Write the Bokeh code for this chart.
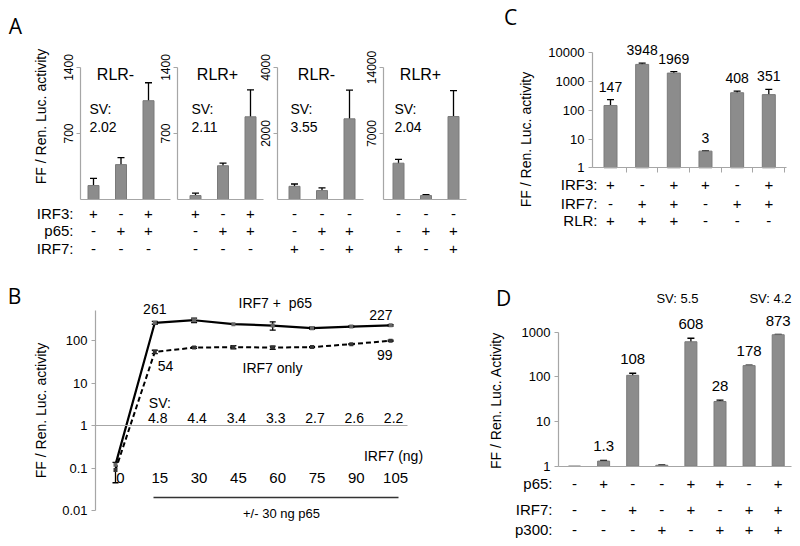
import math
from bokeh.plotting import figure
from bokeh.layouts import column, row
from bokeh.models import (Range1d, LinearAxis, LinearScale, LogScale, FixedTicker,
                          CustomJSTickFormatter, Whisker, TeeHead, ColumnDataSource)
from bokeh.core.properties import value
from bokeh.embed import file_html
from bokeh.resources import INLINE

# ---------------- data ----------------
# Panel A (four sub-charts)
a_titles = ["RLR-", "RLR+", "RLR-", "RLR+"]
a_sv = ["2.02", "2.11", "3.55", "2.04"]
a_axis_max = [1400, 1400, 4000, 14000]
a1_values = [148, 370, 1048]
a1_errors = [77, 74, 190]
a2_values = [42, 358, 877]
a2_errors = [25, 28, 286]
a3_values = [400, 270, 2445]
a3_errors = [70, 80, 870]
a4_values = [3850, 420, 8800]
a4_errors = [400, 100, 2750]
a_row_labels = ["IRF3:", "p65:", "IRF7:"]
a1_signs = [["+", "-", "+"], ["-", "+", "+"], ["-", "-", "-"]]
a2_signs = [["+", "-", "+"], ["-", "+", "+"], ["-", "-", "-"]]
a3_signs = [["-", "-", "-"], ["-", "+", "+"], ["+", "-", "+"]]
a4_signs = [["-", "-", "-"], ["-", "+", "+"], ["+", "-", "+"]]

# Panel B
b_irf7_ng = ["0", "15", "30", "45", "60", "75", "90", "105"]
b_irf7_p65 = [0.12, 261, 300, 242, 225, 195, 213, 227]
b_irf7_p65_err = [0, 20, 35, 0, 50, 10, 8, 8]
b_irf7_only = [0.09, 54, 68, 70, 68, 70, 82, 99]
b_irf7_only_err = [0.045, 5, 3, 6, 6, 2, 2, 3]
b_sv = ["4.8", "4.4", "3.4", "3.3", "2.7", "2.6", "2.2"]
b_ticks = [0.01, 0.1, 1, 10, 100]

# Panel C
c_values = [147, 3948, 1969, 3.8, 408, 351]
c_errors = [90, 400, 250, 0.1, 60, 180]
c_labels = ["147", "3948", "1969", "3", "408", "351"]
c_row_labels = ["IRF3:", "IRF7:", "RLR:"]
c_signs = [["+", "-", "+", "+", "-", "+"],
           ["-", "+", "+", "-", "+", "+"],
           ["+", "+", "+", "-", "-", "-"]]
c_ticks = [1, 10, 100, 1000, 10000]

# Panel D
d_values = [1.0, 1.3, 108, 1.05, 608, 28, 178, 873]
d_errors = [0, 0.05, 12, 0.02, 120, 2, 5, 10]
d_labels = ["", "1.3", "108", "", "608", "28", "178", "873"]
d_row_labels = ["p65:", "IRF7:", "p300:"]
d_signs = [["-", "+", "-", "-", "+", "+", "-", "+"],
           ["-", "-", "+", "-", "+", "-", "+", "+"],
           ["-", "-", "-", "+", "-", "+", "+", "+"]]
d_sv = ["SV: 5.5", "SV: 4.2"]
d_ticks = [1, 10, 100, 1000]

# ---------------- style / layout ----------------
FONT = "Liberation Sans"
LETTER_FONT = "Open Sans"
BAR_FILL = "#8c8c8c"
BAR_LINE = "#7a7a7a"
AXIS_COL = "#a6a6a6"
YTITLE = "FF / Ren. Luc. activity"


def make_fig(left, top, w, h):
    p = figure(width=w, height=h, x_range=Range1d(left, left + w),
               y_range=Range1d(top + h, top), min_border=0,
               toolbar_location=None, output_backend="svg",
               x_axis_location=None, y_axis_location=None,
               outline_line_color=None, background_fill_color="white",
               border_fill_color="white")
    p.xgrid.visible = False
    p.ygrid.visible = False
    return p


def add_x(p, name, px0, step):
    L, R = p.x_range.start, p.x_range.end
    p.extra_x_ranges = {**p.extra_x_ranges, name: Range1d((L - px0) / step, (R - px0) / step)}
    p.extra_x_scales = {**p.extra_x_scales, name: LinearScale()}


def add_y_lin(p, name, py0, py1, vmax):
    k = (py0 - py1) / vmax
    B, T = p.y_range.start, p.y_range.end
    p.extra_y_ranges = {**p.extra_y_ranges, name: Range1d((py0 - B) / k, (py0 - T) / k)}
    p.extra_y_scales = {**p.extra_y_scales, name: LinearScale()}


def add_y_log(p, name, py1, dec):
    B, T = p.y_range.start, p.y_range.end
    p.extra_y_ranges = {**p.extra_y_ranges,
                        name: Range1d(10 ** ((py1 - B) / dec), 10 ** ((py1 - T) / dec))}
    p.extra_y_scales = {**p.extra_y_scales, name: LogScale()}


def text(p, xs, ys, ss, size, align="center", baseline="middle", angle=0.0,
         xr="default", yr="default", font=FONT, dx=0, dy=0):
    n = len(ss)
    if not isinstance(xs, (list, tuple)):
        xs = [xs] * n
    if not isinstance(ys, (list, tuple)):
        ys = [ys] * n
    p.text(x=list(xs), y=list(ys), text=list(ss), x_range_name=xr, y_range_name=yr,
           text_font=value(font), text_font_size=f"{size}px", text_align=align,
           text_baseline=baseline, angle=angle, text_color="black",
           x_offset=dx, y_offset=dy)


def whiskers(p, vals, errs, xr, yr, head=7):
    ii = [i for i in range(len(vals)) if errs[i] > 0]
    src = ColumnDataSource(dict(x=ii, up=[vals[i] + errs[i] for i in ii],
                                lo=[vals[i] - errs[i] for i in ii]))
    w = Whisker(source=src, base="x", upper="up", lower="lo",
                x_range_name=xr, y_range_name=yr,
                line_color="black", line_width=1.3,
                upper_head=TeeHead(size=head, line_color="black", line_width=1.3),
                lower_head=TeeHead(size=head, line_color="black", line_width=1.3))
    p.add_layout(w)


def bars(p, vals, errs, xr, yr, width, bottom):
    idx = list(range(len(vals)))
    p.vbar(x=idx, top=vals, bottom=bottom, width=width, x_range_name=xr, y_range_name=yr,
           fill_color=BAR_FILL, line_color=BAR_LINE, line_width=1)
    whiskers(p, vals, errs, xr, yr)


def y_axis(p, xr, yr, loc, bounds, ticks, size, orient="horizontal"):
    ax = LinearAxis(x_range_name=xr, y_range_name=yr, fixed_location=loc, bounds=bounds,
                    ticker=FixedTicker(ticks=ticks),
                    formatter=CustomJSTickFormatter(code="return tick.toString()"),
                    axis_line_color=AXIS_COL, axis_line_width=1.2,
                    major_tick_line_color=AXIS_COL, major_tick_out=4, major_tick_in=0,
                    minor_tick_line_color=None, major_label_text_font=FONT,
                    major_label_text_font_size=f"{size}px", major_label_text_color="black",
                    major_label_orientation=orient, major_label_standoff=4)
    p.add_layout(ax, "left")


def x_axis(p, xr, yr, loc, bounds, ticks=()):
    ax = LinearAxis(x_range_name=xr, y_range_name=yr, fixed_location=loc, bounds=bounds,
                    ticker=FixedTicker(ticks=list(ticks)),
                    formatter=CustomJSTickFormatter(code="return ''"),
                    axis_line_color=AXIS_COL, axis_line_width=1.2,
                    major_tick_line_color=AXIS_COL if ticks else None,
                    major_tick_out=5, major_tick_in=0, minor_tick_line_color=None,
                    major_label_text_color=None)
    p.add_layout(ax, "below")


# ---------------- Panel A ----------------
pA = make_fig(0, 0, 480, 268)
A_AXIS_PX = [80, 177, 277, 383]
A_BAR0_PX = [93, 195, 294, 398]
A_END_PX = [170, 263, 363, 466]
A_STEP = 27.5
A_ZERO_PY, A_TOP_PY = 199, 67
A_ROW_PY = [213, 230, 248]
a_vals = [a1_values, a2_values, a3_values, a4_values]
a_errs = [a1_errors, a2_errors, a3_errors, a4_errors]
a_signs = [a1_signs, a2_signs, a3_signs, a4_signs]
for k in range(4):
    xr, yr = f"ax{k}", f"ay{k}"
    add_x(pA, xr, A_BAR0_PX[k], A_STEP)
    add_y_lin(pA, yr, A_ZERO_PY, A_TOP_PY, a_axis_max[k])
    bars(pA, a_vals[k], a_errs[k], xr, yr, 11 / A_STEP, 0)
    loc = (A_AXIS_PX[k] - A_BAR0_PX[k]) / A_STEP
    end = (A_END_PX[k] - A_BAR0_PX[k]) / A_STEP
    vm = a_axis_max[k]
    y_axis(pA, xr, yr, loc, (0, vm), [vm // 2, vm], 12, "vertical")
    x_axis(pA, xr, yr, 0, (loc, end))
    text(pA, [0.8], [74], [a_titles[k]], 16, xr=xr)
    text(pA, [-0.15, -0.15], [108, 126], ["SV:", a_sv[k]], 14, align="left", xr=xr)
    for r in range(3):
        text(pA, [0, 1, 2], A_ROW_PY[r], a_signs[k][r], 15, xr=xr)
text(pA, [15], [25], ["A"], 21, font=LETTER_FONT)
text(pA, [40], [116], [YTITLE], 14, angle=math.pi / 2)
text(pA, 73, A_ROW_PY, a_row_labels, 15, align="right")

# ---------------- Panel C ----------------
pC = make_fig(480, 0, 320, 268)
C_AXIS_PX, C_BAR0_PX, C_STEP, C_END_PX = 592, 610, 31.66, 786
C_ONE_PY, C_DEC = 167.3, 28.75
C_ROW_PY = [184, 203, 220]
add_x(pC, "cx", C_BAR0_PX, C_STEP)
add_y_log(pC, "cy", C_ONE_PY, C_DEC)
bars(pC, c_values, c_errors, "cx", "cy", 13 / C_STEP, 1)
c_loc = (C_AXIS_PX - C_BAR0_PX) / C_STEP
c_end = (C_END_PX - C_BAR0_PX) / C_STEP
y_axis(pC, "cx", "cy", c_loc, (1, c_ticks[-1]), c_ticks, 13)
x_axis(pC, "cx", "cy", 1, (c_loc, c_end), ticks=[i + 0.5 for i in range(len(c_values))])
c_idx = list(range(len(c_values)))
text(pC, c_idx, [v + e for v, e in zip(c_values, c_errors)], c_labels, 14,
     xr="cx", yr="cy", dy=-13)
for r in range(3):
    text(pC, c_idx, C_ROW_PY[r], c_signs[r], 15, xr="cx")
text(pC, 597, C_ROW_PY, c_row_labels, 15, align="right")
text(pC, [510], [16], ["C"], 21, font=LETTER_FONT)
text(pC, [525], [139], [YTITLE], 14, angle=math.pi / 2)

# ---------------- Panel B ----------------
pB = make_fig(0, 268, 480, 278)
B_AXIS_PX, B_X0_PX, B_STEP = 95, 115, 39.3
B_ONE_PY, B_DEC = 425, 42.5
B_AXIS_TOP_PY, B_HLINE_END_PX = 310, 407
add_x(pB, "bx", B_X0_PX, B_STEP)
add_y_log(pB, "by", B_ONE_PY, B_DEC)
b_loc = (B_AXIS_PX - B_X0_PX) / B_STEP
y_axis(pB, "bx", "by", b_loc, (b_ticks[0], 10 ** ((B_ONE_PY - B_AXIS_TOP_PY) / B_DEC)), b_ticks, 13)
x_axis(pB, "bx", "by", 1, (b_loc, (B_HLINE_END_PX - B_X0_PX) / B_STEP))
b_idx = list(range(len(b_irf7_ng)))
pB.line(b_idx, b_irf7_only, x_range_name="bx", y_range_name="by",
        line_color="black", line_width=2, line_dash="5 3")
pB.line(b_idx, b_irf7_p65, x_range_name="bx", y_range_name="by",
        line_color="black", line_width=2.2)
whiskers(pB, b_irf7_only, b_irf7_only_err, "bx", "by", head=6)
whiskers(pB, b_irf7_p65, b_irf7_p65_err, "bx", "by", head=6)
pB.scatter(b_idx, b_irf7_p65, x_range_name="bx", y_range_name="by", marker="square",
           size=4, fill_color="#666666", line_color=None)
pB.scatter(b_idx, b_irf7_only, x_range_name="bx", y_range_name="by", marker="square",
           size=4, fill_color="#333333", line_color=None)
text(pB, [1], [b_irf7_p65[1]], [str(b_irf7_p65[1])], 14, xr="bx", yr="by", dy=-14)
text(pB, [1], [b_irf7_only[1]], [str(b_irf7_only[1])], 14, align="left", xr="bx", yr="by", dx=3, dy=14)
text(pB, [7], [b_irf7_p65[7]], [str(b_irf7_p65[7])], 14, align="right", xr="bx", yr="by", dx=2, dy=-10)
text(pB, [7], [b_irf7_only[7]], [str(b_irf7_only[7])], 14, align="right", xr="bx", yr="by", dx=2, dy=14)
text(pB, [238], [302], ["IRF7 +\u00a0\u00a0p65"], 14, align="left")
text(pB, [242], [367], ["IRF7 only"], 14, align="left")
text(pB, [1], [402], ["SV:"], 14, align="left", xr="bx", dx=-6)
text(pB, b_idx[1:], 417, b_sv, 14, xr="bx", dx=3)
text(pB, b_idx, 477, b_irf7_ng, 15, xr="bx", dx=5)
text(pB, [393], [455], ["IRF7 (ng)"], 14)
pB.segment(x0=[153], y0=[497], x1=[398], y1=[497], line_color="#333333", line_width=1.5)
text(pB, [281], [513], ["+/- 30 ng p65"], 13)
text(pB, [14], [295], ["B"], 21, font=LETTER_FONT)
text(pB, [40], [410], [YTITLE], 14, angle=math.pi / 2)

# ---------------- Panel D ----------------
pD = make_fig(480, 268, 320, 278)
D_AXIS_PX, D_BAR0_PX, D_STEP, D_END_PX = 558, 574, 29.1, 791
D_ONE_PY, D_DEC = 465.7, 44.7
D_ROW_PY = [483, 509, 529]
add_x(pD, "dx", D_BAR0_PX, D_STEP)
add_y_log(pD, "dy", D_ONE_PY, D_DEC)
bars(pD, d_values, d_errors, "dx", "dy", 12 / D_STEP, 1)
d_loc = (D_AXIS_PX - D_BAR0_PX) / D_STEP
d_end = (D_END_PX - D_BAR0_PX) / D_STEP
y_axis(pD, "dx", "dy", d_loc, (1, d_ticks[-1]), d_ticks, 13)
x_axis(pD, "dx", "dy", 1, (d_loc, d_end))
d_lab_idx = [i for i in range(len(d_labels)) if d_labels[i]]
text(pD, d_lab_idx, [d_values[i] + d_errors[i] for i in d_lab_idx],
     [d_labels[i] for i in d_lab_idx], 15, xr="dx", yr="dy", dy=-14)
d_idx = list(range(len(d_values)))
for r in range(3):
    text(pD, d_idx, D_ROW_PY[r], d_signs[r], 15, xr="dx")
text(pD, 552, D_ROW_PY, d_row_labels, 15, align="right")
text(pD, [677, 770], [298, 298], d_sv, 13)
text(pD, [503], [297], ["D"], 21, font=LETTER_FONT)
text(pD, [495], [400], ["FF / Ren. Luc. Activity"], 14, angle=math.pi / 2)

layout = column(row(pA, pC), row(pB, pD))
open("out.html", "w").write(file_html(layout, INLINE))
